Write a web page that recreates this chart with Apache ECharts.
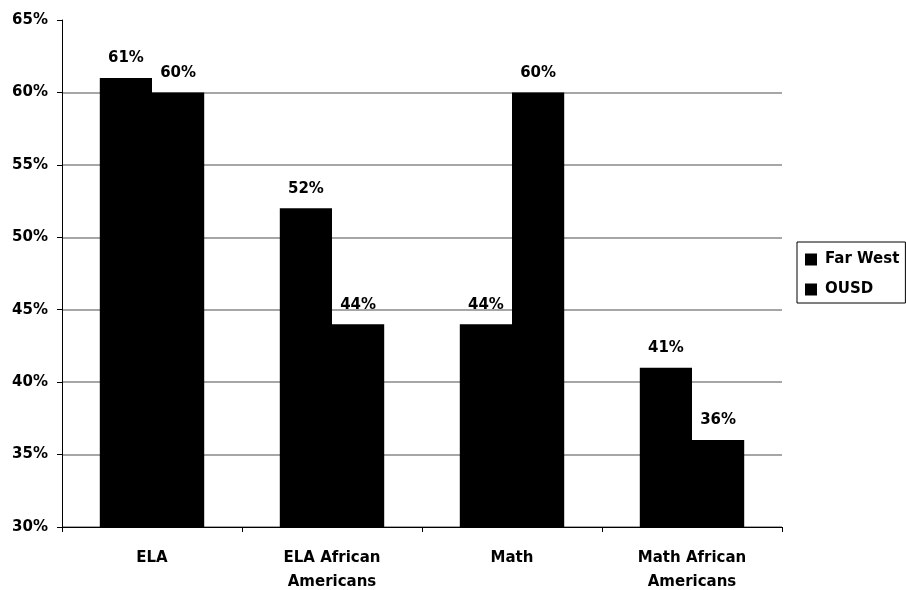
<!DOCTYPE html>
<html><head><meta charset="utf-8">
<script src="https://cdn.jsdelivr.net/npm/echarts@6/dist/echarts.min.js"></script>
<style>html,body{margin:0;padding:0;background:#fff}#c{width:906px;height:590px}</style>
</head><body><div id="c"></div>
<script>
const categories = ['ELA', 'ELA African\nAmericans', 'Math', 'Math African\nAmericans'];
const farWest = [61, 52, 44, 41];
const ousd = [60, 44, 60, 36];
const seriesNames = ['Far West', 'OUSD'];
const yTicks = [30, 35, 40, 45, 50, 55, 60, 65];

const font = 'DejaVu Sans, sans-serif';
const chart = echarts.init(document.getElementById('c'));
const lbl = {show: true, position: 'top', formatter: p => p.value + '%', color: '#000', fontFamily: font, fontWeight: 'bold', fontSize: 15, distance: 12};
chart.setOption({
  animation: false,
  grid: {left: 62, right: 124, top: 20, bottom: 63, containLabel: false, outerBoundsMode: 'none'},
  legend: {
    orient: 'vertical', left: 797, top: 242, data: seriesNames,
    itemWidth: 12, itemHeight: 12, itemGap: 15, icon: 'rect',
    borderColor: '#000', borderWidth: 1, padding: [10, 6, 6, 8],
    textStyle: {fontFamily: font, fontWeight: 'bold', fontSize: 15, color: '#000', padding: [0, 0, 0, 3]}
  },
  xAxis: {
    type: 'category', data: categories,
    axisLine: {lineStyle: {color: '#000', width: 1}},
    axisTick: {show: true, length: 5, lineStyle: {color: '#000'}},
    axisLabel: {color: '#000', fontFamily: font, fontWeight: 'bold', fontSize: 15, lineHeight: 24, margin: 19}
  },
  yAxis: {
    type: 'value', min: 30, max: 65, interval: 5,
    axisLine: {show: true, lineStyle: {color: '#000'}},
    axisTick: {show: true, length: 5, lineStyle: {color: '#000'}},
    axisLabel: {color: '#000', fontFamily: font, fontWeight: 'bold', fontSize: 15, margin: 14,
      formatter: v => yTicks.includes(v) ? v + '%' : ''},
    splitLine: {show: true, showMaxLine: false, lineStyle: {color: '#888', width: 1.5}}
  },
  series: [
    {name: seriesNames[0], type: 'bar', data: farWest, barGap: '0%', barCategoryGap: '42%', itemStyle: {color: '#000'}, label: lbl},
    {name: seriesNames[1], type: 'bar', data: ousd, itemStyle: {color: '#000'}, label: lbl}
  ]
});
</script></body></html>
